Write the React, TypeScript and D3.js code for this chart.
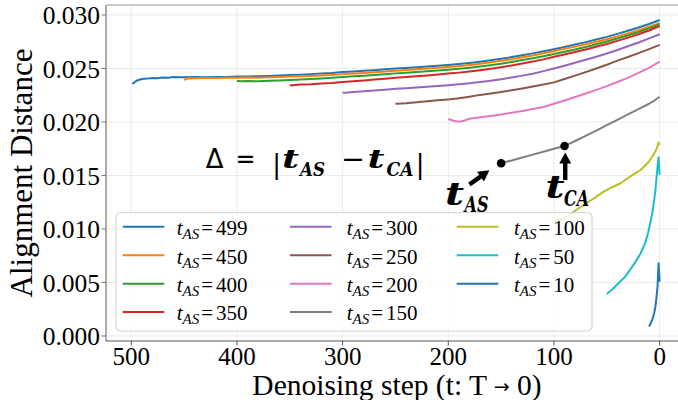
import React from 'react';
import * as d3 from 'd3';

const W = 678;
const H = 400;

const X_TICKS = [500, 400, 300, 200, 100, 0];
const Y_TICKS = [0, 0.005, 0.01, 0.015, 0.02, 0.025, 0.03];
const T_AS = [499, 450, 400, 350, 300, 250, 200, 150, 100, 50, 10];
const COLORS = ['#1f77b4', '#ff7f0e', '#2ca02c', '#d62728', '#9467bd', '#8c564b', '#e377c2', '#7f7f7f', '#bcbd22', '#17becf', '#1f77b4'];

const s499: [number, number][] = [[499,0.02355],[497,0.02372],[494,0.02390],[490,0.02402],[485,0.02405],[480,0.02410],[475,0.02408],[470,0.02416],[465,0.02414],[460,0.02420],[455,0.02417],[450,0.02418],[440,0.02419],[430,0.02418],[420,0.02421],[410,0.02420],[400,0.02425],[390,0.02424],[380,0.02428],[370,0.02430],[360,0.02434],[350,0.02438],[340,0.02442],[330,0.02447],[320,0.02453],[310,0.02458],[300,0.02466],[290,0.02471],[280,0.02478],[270,0.02484],[260,0.02492],[250,0.02499],[240,0.02505],[230,0.02512],[220,0.02519],[210,0.02526],[200,0.02533],[190,0.02542],[180,0.02552],[170,0.02563],[160,0.02576],[150,0.02590],[140,0.02606],[130,0.02623],[120,0.02641],[110,0.02660],[100,0.02680],[90,0.02701],[80,0.02723],[70,0.02746],[60,0.02770],[50,0.02795],[40,0.02823],[30,0.02852],[20,0.02883],[10,0.02916],[0,0.02953]];
const s450: [number, number][] = [[450,0.02390],[448,0.02402],[445,0.02410],[440,0.02409],[430,0.02412],[420,0.02410],[410,0.02413],[400,0.02412],[390,0.02415],[380,0.02414],[370,0.02418],[360,0.02421],[350,0.02424],[340,0.02426],[330,0.02430],[320,0.02435],[310,0.02440],[300,0.02447],[290,0.02452],[280,0.02458],[270,0.02465],[260,0.02472],[250,0.02479],[240,0.02486],[230,0.02492],[220,0.02500],[210,0.02506],[200,0.02514],[190,0.02522],[180,0.02533],[170,0.02544],[160,0.02557],[150,0.02571],[140,0.02587],[130,0.02604],[120,0.02622],[110,0.02642],[100,0.02663],[90,0.02683],[80,0.02704],[70,0.02726],[60,0.02749],[50,0.02773],[40,0.02800],[30,0.02828],[20,0.02858],[10,0.02890],[0,0.02922]];
const s400: [number, number][] = [[400,0.02383],[395,0.02380],[390,0.02382],[380,0.02381],[370,0.02385],[360,0.02388],[350,0.02392],[340,0.02396],[330,0.02401],[320,0.02406],[310,0.02412],[300,0.02420],[290,0.02426],[280,0.02432],[270,0.02439],[260,0.02446],[250,0.02454],[240,0.02460],[230,0.02467],[220,0.02474],[210,0.02481],[200,0.02488],[190,0.02497],[180,0.02507],[170,0.02518],[160,0.02531],[150,0.02545],[140,0.02561],[130,0.02578],[120,0.02596],[110,0.02615],[100,0.02635],[90,0.02656],[80,0.02678],[70,0.02701],[60,0.02726],[50,0.02752],[40,0.02780],[30,0.02810],[20,0.02841],[10,0.02875],[0,0.02913]];
const s350: [number, number][] = [[350,0.02340],[345,0.02345],[340,0.02350],[330,0.02353],[320,0.02359],[310,0.02364],[300,0.02374],[290,0.02381],[280,0.02388],[270,0.02396],[260,0.02404],[250,0.02412],[240,0.02419],[230,0.02427],[220,0.02435],[210,0.02443],[200,0.02452],[190,0.02461],[180,0.02472],[170,0.02484],[160,0.02497],[150,0.02512],[140,0.02528],[130,0.02546],[120,0.02565],[110,0.02585],[100,0.02609],[90,0.02631],[80,0.02654],[70,0.02678],[60,0.02703],[50,0.02729],[40,0.02758],[30,0.02788],[20,0.02820],[10,0.02855],[0,0.02897]];
const s300: [number, number][] = [[300,0.02274],[295,0.02276],[290,0.02280],[280,0.02288],[270,0.02295],[260,0.02302],[250,0.02310],[240,0.02316],[230,0.02323],[220,0.02330],[210,0.02337],[200,0.02344],[190,0.02352],[180,0.02362],[170,0.02373],[160,0.02386],[150,0.02400],[140,0.02416],[130,0.02433],[120,0.02451],[110,0.02475],[100,0.02500],[90,0.02526],[80,0.02553],[70,0.02581],[60,0.02610],[50,0.02640],[40,0.02673],[30,0.02707],[20,0.02743],[10,0.02781],[0,0.02820]];
const s250: [number, number][] = [[250,0.02171],[245,0.02172],[240,0.02175],[230,0.02184],[220,0.02193],[210,0.02202],[200,0.02211],[190,0.02222],[180,0.02236],[170,0.02253],[160,0.02266],[150,0.02280],[140,0.02296],[130,0.02313],[120,0.02331],[110,0.02350],[100,0.02370],[90,0.02401],[80,0.02433],[70,0.02466],[60,0.02500],[50,0.02535],[40,0.02573],[30,0.02607],[20,0.02643],[10,0.02681],[0,0.02720]];
const s200: [number, number][] = [[200,0.02028],[195,0.02012],[190,0.02003],[185,0.02012],[180,0.02030],[170,0.02043],[160,0.02056],[150,0.02070],[140,0.02086],[130,0.02103],[120,0.02121],[110,0.02140],[100,0.02170],[90,0.02201],[80,0.02233],[70,0.02266],[60,0.02300],[50,0.02335],[40,0.02373],[30,0.02412],[20,0.02458],[10,0.02506],[0,0.02563]];
const s150: [number, number][] = [[150,0.01614],[145,0.01628],[140,0.01640],[130,0.01668],[120,0.01695],[110,0.01722],[100,0.01750],[90,0.01776],[80,0.01822],[70,0.01870],[60,0.01920],[50,0.01970],[40,0.02020],[30,0.02070],[20,0.02120],[10,0.02170],[5,0.02200],[0,0.02236]];
const s100: [number, number][] = [[100,0.01070],[90,0.01100],[80,0.01170],[72,0.01224],[60,0.01300],[53,0.01349],[45,0.01390],[37,0.01427],[28,0.01490],[18,0.01551],[10,0.01630],[6,0.01692],[3,0.01745],[1,0.01807],[0,0.01785]];
const s50: [number, number][] = [[50,0.00393],[45,0.00435],[39,0.00492],[33,0.00550],[28,0.00617],[23,0.00690],[18,0.00773],[14,0.00860],[11,0.00960],[9,0.01050],[7,0.01147],[5,0.01280],[4,0.01364],[3,0.01470],[2,0.01582],[1,0.01670],[0,0.01505]];
const s10: [number, number][] = [[10,0.00087],[8,0.00130],[7,0.00150],[5,0.00220],[4,0.00274],[3,0.00360],[2,0.00461],[1,0.00679],[0,0.00508]];

const SERIES = [s499, s450, s400, s350, s300, s250, s200, s150, s100, s50, s10];

// annotated points on the t_AS=150 curve
const T_AS_POINT = 150;
const T_CA_POINT = 90;

const x = d3.scaleLinear().domain([523.95, -24.95]).range([106, 686]);
const y = d3.scaleLinear().domain([-0.00047, 0.03093]).range([341, 5]);

const line = d3.line<[number, number]>().x(d => x(d[0])).y(d => y(d[1]));

const SERIF = '"Liberation Serif", "Times New Roman", serif';
const MATH = '"DejaVu Serif", serif';
const SANS = '"DejaVu Sans", sans-serif';

const fmt = d3.format('.3f');

function valueAt(s: [number, number][], t: number) {
  const p = s.find(d => d[0] === t);
  return p ? p[1] : 0;
}

function Arrow({ x1, y1, x2, y2 }: { x1: number; y1: number; x2: number; y2: number }) {
  const dx = x2 - x1, dy = y2 - y1;
  const len = Math.sqrt(dx * dx + dy * dy);
  const ux = dx / len, uy = dy / len;
  const px = -uy, py = ux;
  const hl = 11, hw = 6, sw = 2.2;
  const bx = x2 - ux * hl, by = y2 - uy * hl;
  const d = `M${x1 + px * sw},${y1 + py * sw} L${bx + px * sw},${by + py * sw} L${bx + px * hw},${by + py * hw} L${x2},${y2} L${bx - px * hw},${by - py * hw} L${bx - px * sw},${by - py * sw} L${x1 - px * sw},${y1 - py * sw} Z`;
  return <path d={d} fill="#000" />;
}

export default function App() {
  const [x0, x1] = [106, 686];
  const [yb, yt] = [341, 5];
  const legendCols = [122.7, 290, 456.7];
  const legendText = [176.7, 346.7, 514];
  const legendRows = [226.7, 255.3, 283.7, 312];

  const pAS = { px: x(T_AS_POINT), py: y(valueAt(s150, T_AS_POINT)) };
  const pCA = { px: x(T_CA_POINT), py: y(valueAt(s150, T_CA_POINT)) };

  return (
    <svg width={W} height={H} style={{ position: 'absolute', left: 0, top: 0, background: '#fff' }}>
      <rect x={0} y={0} width={W} height={H} fill="#fff" />
      {/* grid */}
      {X_TICKS.map(t => (
        <line key={'gx' + t} x1={x(t)} x2={x(t)} y1={yt} y2={yb} stroke="#ebebeb" strokeWidth={1} />
      ))}
      {Y_TICKS.map(t => (
        <line key={'gy' + t} x1={x0} x2={x1} y1={y(t)} y2={y(t)} stroke="#ebebeb" strokeWidth={1} />
      ))}
      {/* series */}
      {SERIES.map((s, i) => (
        <path key={'s' + i} d={line(s) || ''} fill="none" stroke={COLORS[i]} strokeWidth={2} strokeLinejoin="round" strokeLinecap="butt" />
      ))}
      {/* spines */}
      <line x1={x0} x2={x0} y1={yt} y2={yb} stroke="#777" strokeWidth={1.2} />
      <line x1={x0} x2={x1} y1={yb} y2={yb} stroke="#555" strokeWidth={1.2} />
      <line x1={x0} x2={x1} y1={yt} y2={yt} stroke="#999" strokeWidth={1.2} />
      {/* ticks */}
      {Y_TICKS.map(t => (
        <g key={'yt' + t}>
          <line x1={x0 - 4.5} x2={x0} y1={y(t)} y2={y(t)} stroke="#777" strokeWidth={1} />
          <text x={100} y={y(t) + 9.5} textAnchor="end" fontFamily={SERIF} fontSize={25.5} fill="#000">{fmt(t)}</text>
        </g>
      ))}
      {X_TICKS.map(t => (
        <g key={'xt' + t}>
          <line x1={x(t)} x2={x(t)} y1={yb} y2={yb + 4.5} stroke="#555" strokeWidth={1} />
          <text x={x(t)} y={364.5} textAnchor="middle" fontFamily={SERIF} fontSize={25} fill="#000">{t}</text>
        </g>
      ))}
      {/* axis labels */}
      <text x={397} y={395} textAnchor="middle" fontFamily={SERIF} fontSize={29.5} fill="#000">
        Denoising step (t: T <tspan fontSize={19} fontFamily={SANS} dy={-2}>→</tspan><tspan dy={2}> 0)</tspan>
      </text>
      <text transform={`translate(32, 173) rotate(-90)`} textAnchor="middle" fontFamily={SERIF} fontSize={31} fill="#000">Alignment Distance</text>

      {/* annotation formula */}
      <g fill="#000">
        <text x={205.7} y={168} fontFamily={SANS} fontSize={26}>Δ</text>
        <text x={235.5} y={168} fontFamily={SANS} fontSize={26} textLength={20} lengthAdjust="spacingAndGlyphs">=</text>
        <text x={272.3} y={173} fontFamily={SANS} fontSize={26}>|</text>
        <text x={282} y={168} fontFamily={MATH} fontSize={26} fontWeight="bold" fontStyle="italic" textLength={17} lengthAdjust="spacingAndGlyphs">t</text>
        <text x={300} y={176} fontFamily={MATH} fontSize={19} fontWeight="bold" fontStyle="italic" textLength={25} lengthAdjust="spacingAndGlyphs">AS</text>
        <text x={341} y={168} fontFamily={SANS} fontSize={26} textLength={24} lengthAdjust="spacingAndGlyphs">−</text>
        <text x={367.5} y={168} fontFamily={MATH} fontSize={26} fontWeight="bold" fontStyle="italic" textLength={17} lengthAdjust="spacingAndGlyphs">t</text>
        <text x={386.5} y={176} fontFamily={MATH} fontSize={19} fontWeight="bold" fontStyle="italic" textLength={27} lengthAdjust="spacingAndGlyphs">CA</text>
        <text x={415.7} y={173} fontFamily={SANS} fontSize={26}>|</text>
      </g>

      {/* points + arrows */}
      <circle cx={pAS.px} cy={pAS.py} r={4.3} fill="#000" />
      <circle cx={pCA.px} cy={pCA.py} r={4.3} fill="#000" />
      <Arrow x1={pAS.px - 31.7} y1={pAS.py + 21.3} x2={pAS.px - 11.7} y2={pAS.py + 7} />
      <Arrow x1={pCA.px + 0.7} y1={pCA.py + 34} x2={pCA.px + 0.7} y2={pCA.py + 6.5} />
      <g fill="#000">
        <text x={445} y={205} fontFamily={MATH} fontSize={31} fontWeight="bold" fontStyle="italic" textLength={19} lengthAdjust="spacingAndGlyphs">t</text>
        <text x={464.5} y={211.7} fontFamily={MATH} fontSize={23} fontWeight="bold" fontStyle="italic" textLength={24} lengthAdjust="spacingAndGlyphs">AS</text>
        <text x={545.5} y={198.3} fontFamily={MATH} fontSize={31} fontWeight="bold" fontStyle="italic" textLength={19} lengthAdjust="spacingAndGlyphs">t</text>
        <text x={564} y={206} fontFamily={MATH} fontSize={23} fontWeight="bold" fontStyle="italic" textLength={25} lengthAdjust="spacingAndGlyphs">CA</text>
      </g>

      {/* legend */}
      <rect x={116} y={212.7} width={476} height={118.3} rx={4} fill="#fff" fillOpacity={0.8} stroke="#d0d0d0" strokeWidth={1} />
      {T_AS.map((t, i) => {
        const col = Math.floor(i / 4);
        const row = i % 4;
        const cy = legendRows[row];
        return (
          <g key={'lg' + t}>
            <line x1={legendCols[col]} x2={legendCols[col] + 41.6} y1={cy} y2={cy} stroke={COLORS[i]} strokeWidth={2} />
            <text x={legendText[col]} y={cy + 8.3} fontFamily={SERIF} fontSize={21} fill="#000">
              <tspan fontStyle="italic">t</tspan>
              <tspan fontStyle="italic" fontSize={15} dy={4}>AS</tspan>
              <tspan dy={-4} dx={2}>=</tspan>
              <tspan dx={3}>{t}</tspan>
            </text>
          </g>
        );
      })}
    </svg>
  );
}
